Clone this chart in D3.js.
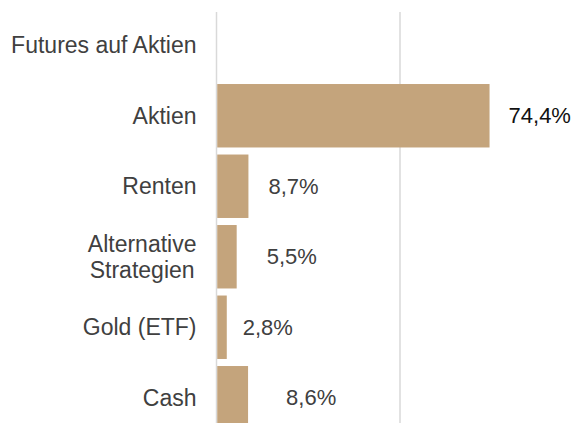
<!DOCTYPE html>
<html>
<head>
<meta charset="utf-8">
<script src="https://cdn.jsdelivr.net/npm/d3@7"></script>
<style>
  body { margin: 0; background: #fff; }
  text { font-family: "Liberation Sans", Arial, sans-serif; }
</style>
</head>
<body>
<div id="chart"></div>
<script>
const categories = ['Futures auf Aktien', 'Aktien', 'Renten', 'Alternative\nStrategien', 'Gold (ETF)', 'Cash']
const values = [null, 74.4, 8.7, 5.5, 2.8, 8.6]
const valueLabels = ['', '74,4%', '8,7%', '5,5%', '2,8%', '8,6%']
const gridTicks = [0, 50, 100]

// label gaps after the bar end
const labelDx = [0, 19, 20, 30, 16, 38]

const width = 574
const height = 423
const barColor = '#c4a47c'
const textColor = '#404040'

const svg = d3.select('#chart')
    .append('svg')
    .attr('width', width)
    .attr('height', height)

const x = d3.scaleLinear()
    .domain([0, 50])
    .range([216.5, 400])

const y = d3.scaleBand()
    .domain(d3.range(categories.length))
    .range([10, 433])
    .paddingInner(0.1)
    .paddingOuter(0.05)

// grid lines
svg.append('g')
    .selectAll('line')
    .data(gridTicks)
    .join('line')
        .attr('x1', d => x(d))
        .attr('x2', d => x(d))
        .attr('y1', 12)
        .attr('y2', height)
        .attr('stroke', '#d9d9d9')
        .attr('stroke-width', 1.5)

const data = categories.map((c, i) => ({ i, name: c, value: values[i], label: valueLabels[i] }))

svg.append('g')
    .selectAll('rect')
    .data(data.filter(d => d.value != null))
    .join('rect')
        .attr('x', x(0) + 0.75)
        .attr('y', d => y(d.i))
        .attr('width', d => x(d.value) - x(0) - 0.75)
        .attr('height', y.bandwidth())
        .attr('fill', barColor)

// value labels
svg.append('g')
    .selectAll('text')
    .data(data.filter(d => d.value != null))
    .join('text')
        .attr('x', d => x(d.value) + labelDx[d.i])
        .attr('y', d => y(d.i) + y.bandwidth() / 2)
        .attr('dy', '0.35em')
        .attr('font-size', '22px')
        .attr('fill', d => d.i === 1 ? '#111' : textColor)
        .text(d => d.label)

// category labels, lines centred on each other and block right aligned
const rightEdge = x(0) - 20
const lineH = 26.5
const cats = svg.append('g')
    .selectAll('text')
    .data(data)
    .join('text')
        .attr('font-size', '23px')
        .attr('fill', textColor)
        .attr('text-anchor', 'middle')

cats.each(function (d) {
    const t = d3.select(this)
    const lines = d.name.split('\n')
    const cy = y(d.i) + y.bandwidth() / 2
    const y0 = cy - (lines.length - 1) * lineH / 2
    lines.forEach((ln, k) => {
        t.append('tspan')
            .attr('y', y0 + k * lineH)
            .attr('dy', '0.35em')
            .text(ln)
    })
    const w = d3.max(t.selectAll('tspan').nodes(), n => n.getComputedTextLength())
    t.selectAll('tspan').attr('x', rightEdge - w / 2)
})
</script>
</body>
</html>
